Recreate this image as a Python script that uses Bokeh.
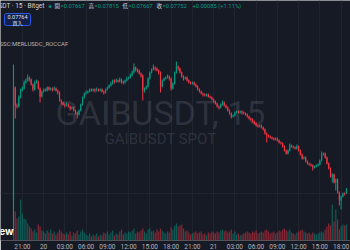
import pandas as pd
from bokeh.plotting import figure
from bokeh.models import Range1d, FixedTicker, Label, BoxAnnotation, Grid, ColumnDataSource
from bokeh.embed import file_html
from bokeh.resources import INLINE

# ---------------- data (GAIBUSDT, 15 min, Bitget) ----------------
start_time = "2025-11-19 19:45"

open_p = [
    0.07500, 0.10325, 0.09875, 0.09850, 0.10075, 0.10250, 0.10300, 0.10450, 0.10500, 0.10575,
    0.10525, 0.10400, 0.10275, 0.10450, 0.10475, 0.10300, 0.10100, 0.10225, 0.10275, 0.10250,
    0.10325, 0.10275, 0.10300, 0.10275, 0.10300, 0.10250, 0.10200, 0.10000, 0.09950, 0.09900,
    0.09875, 0.09900, 0.09850, 0.09800, 0.09825, 0.09750, 0.09700, 0.09650, 0.09750, 0.09900,
    0.10075, 0.10175, 0.10200, 0.10225, 0.10275, 0.10250, 0.10275, 0.10250, 0.10275, 0.10250,
    0.10275, 0.10225, 0.10200, 0.10275, 0.10325, 0.10375, 0.10425, 0.10500, 0.10475, 0.10500,
    0.10475, 0.10525, 0.10475, 0.10450, 0.10500, 0.10550, 0.10575, 0.10625, 0.10700, 0.10825,
    0.10775, 0.10750, 0.10675, 0.10625, 0.10250, 0.10300, 0.10350, 0.10550, 0.10700, 0.10775,
    0.10825, 0.10800, 0.10750, 0.10700, 0.10350, 0.10500, 0.10550, 0.10575, 0.10600, 0.10550,
    0.10300, 0.10425, 0.10700, 0.10850, 0.10800, 0.10700, 0.10600, 0.10550, 0.10575, 0.10500,
    0.10450, 0.10425, 0.10450, 0.10400, 0.10350, 0.10275, 0.10225, 0.10175, 0.10150, 0.10125,
    0.10150, 0.10100, 0.10075, 0.10025, 0.09975, 0.09925, 0.09850, 0.09825, 0.09900, 0.09950,
    0.09875, 0.09825, 0.09750, 0.09675, 0.09600, 0.09625, 0.09700, 0.09725, 0.09700, 0.09725,
    0.09700, 0.09675, 0.09650, 0.09600, 0.09550, 0.09525, 0.09475, 0.09425, 0.09375, 0.09350,
    0.09375, 0.09325, 0.09275, 0.09175, 0.09125, 0.09100, 0.09075, 0.09050, 0.09025, 0.09050,
    0.09000, 0.08950, 0.08925, 0.08850, 0.08750, 0.08675, 0.08750, 0.08875, 0.08850, 0.08825,
    0.08800, 0.08850, 0.08750, 0.08650, 0.08550, 0.08575, 0.08475, 0.08425, 0.08400, 0.08375,
    0.08325, 0.08350, 0.08375, 0.08400, 0.08500, 0.08650, 0.08675, 0.08575, 0.08425, 0.08300,
    0.08100, 0.08150, 0.07950, 0.08025, 0.07700, 0.07500, 0.07600, 0.07675, 0.07667,
]

high_p = [
    0.10900, 0.10350, 0.09925, 0.10125, 0.10300, 0.10350, 0.10500, 0.10550, 0.10650, 0.10600,
    0.10550, 0.10425, 0.10500, 0.10525, 0.10500, 0.10325, 0.10250, 0.10300, 0.10300, 0.10350,
    0.10350, 0.10325, 0.10325, 0.10350, 0.10325, 0.10275, 0.10225, 0.10025, 0.09975, 0.09925,
    0.09950, 0.09925, 0.09875, 0.09850, 0.09850, 0.09775, 0.09725, 0.09775, 0.09925, 0.10100,
    0.10200, 0.10250, 0.10250, 0.10300, 0.10300, 0.10300, 0.10300, 0.10325, 0.10300, 0.10300,
    0.10300, 0.10250, 0.10300, 0.10350, 0.10400, 0.10475, 0.10525, 0.10525, 0.10550, 0.10525,
    0.10575, 0.10550, 0.10500, 0.10525, 0.10600, 0.10600, 0.10675, 0.10750, 0.10925, 0.10850,
    0.10800, 0.10775, 0.10700, 0.10650, 0.10325, 0.10375, 0.10575, 0.10725, 0.10800, 0.10900,
    0.10850, 0.10825, 0.10775, 0.10725, 0.10525, 0.10575, 0.10600, 0.10650, 0.10625, 0.10575,
    0.10450, 0.10725, 0.10975, 0.10875, 0.10825, 0.10725, 0.10625, 0.10600, 0.10600, 0.10525,
    0.10475, 0.10475, 0.10475, 0.10425, 0.10375, 0.10300, 0.10250, 0.10200, 0.10175, 0.10175,
    0.10175, 0.10125, 0.10100, 0.10050, 0.10000, 0.09950, 0.09875, 0.09925, 0.10000, 0.09975,
    0.09900, 0.09850, 0.09775, 0.09700, 0.09650, 0.09725, 0.09750, 0.09750, 0.09750, 0.09750,
    0.09725, 0.09700, 0.09675, 0.09625, 0.09575, 0.09550, 0.09500, 0.09450, 0.09400, 0.09400,
    0.09400, 0.09350, 0.09300, 0.09200, 0.09150, 0.09125, 0.09100, 0.09075, 0.09075, 0.09075,
    0.09025, 0.08975, 0.08950, 0.08875, 0.08775, 0.08775, 0.08925, 0.08900, 0.08875, 0.08850,
    0.08900, 0.08875, 0.08775, 0.08675, 0.08600, 0.08600, 0.08500, 0.08450, 0.08425, 0.08400,
    0.08375, 0.08400, 0.08425, 0.08525, 0.08725, 0.08700, 0.08700, 0.08600, 0.08450, 0.08325,
    0.08175, 0.08175, 0.08050, 0.08050, 0.07725, 0.07625, 0.07700, 0.07700, 0.07815,
]

low_p = [
    0.06625, 0.09550, 0.09800, 0.09825, 0.10050, 0.10225, 0.10275, 0.10425, 0.10475, 0.10475,
    0.10375, 0.10225, 0.10250, 0.10425, 0.10275, 0.09950, 0.10075, 0.10200, 0.10225, 0.10225,
    0.10250, 0.10250, 0.10225, 0.10250, 0.10225, 0.10150, 0.09975, 0.09900, 0.09875, 0.09825,
    0.09850, 0.09825, 0.09750, 0.09775, 0.09725, 0.09650, 0.09550, 0.09625, 0.09725, 0.09875,
    0.10050, 0.10150, 0.10175, 0.10200, 0.10225, 0.10225, 0.10200, 0.10225, 0.10225, 0.10225,
    0.10200, 0.10150, 0.10175, 0.10250, 0.10300, 0.10350, 0.10400, 0.10425, 0.10450, 0.10450,
    0.10450, 0.10425, 0.10400, 0.10425, 0.10475, 0.10525, 0.10550, 0.10600, 0.10675, 0.10725,
    0.10700, 0.10650, 0.10575, 0.10000, 0.10200, 0.10275, 0.10325, 0.10525, 0.10675, 0.10750,
    0.10750, 0.10725, 0.10650, 0.10200, 0.10325, 0.10475, 0.10525, 0.10550, 0.10500, 0.10250,
    0.10275, 0.10400, 0.10675, 0.10750, 0.10675, 0.10575, 0.10500, 0.10525, 0.10475, 0.10425,
    0.10400, 0.10400, 0.10375, 0.10325, 0.10250, 0.10200, 0.10150, 0.10100, 0.10100, 0.10100,
    0.10075, 0.10050, 0.10000, 0.09950, 0.09900, 0.09825, 0.09775, 0.09800, 0.09875, 0.09850,
    0.09800, 0.09725, 0.09650, 0.09550, 0.09575, 0.09600, 0.09675, 0.09675, 0.09675, 0.09650,
    0.09650, 0.09625, 0.09575, 0.09525, 0.09500, 0.09450, 0.09400, 0.09350, 0.09325, 0.09325,
    0.09300, 0.09250, 0.09150, 0.08950, 0.09075, 0.09050, 0.09025, 0.09000, 0.09000, 0.08975,
    0.08925, 0.08900, 0.08825, 0.08725, 0.08650, 0.08650, 0.08725, 0.08825, 0.08800, 0.08775,
    0.08775, 0.08725, 0.08625, 0.08525, 0.08525, 0.08450, 0.08400, 0.08375, 0.08350, 0.08250,
    0.08300, 0.08325, 0.08350, 0.08375, 0.08475, 0.08625, 0.08550, 0.08400, 0.08275, 0.08075,
    0.07950, 0.07925, 0.07750, 0.07675, 0.07375, 0.07275, 0.07575, 0.07625, 0.07667,
]

close_p = [
    0.10325, 0.09875, 0.09850, 0.10075, 0.10250, 0.10300, 0.10450, 0.10500, 0.10575, 0.10525,
    0.10400, 0.10275, 0.10450, 0.10475, 0.10300, 0.10100, 0.10225, 0.10275, 0.10250, 0.10325,
    0.10275, 0.10300, 0.10275, 0.10300, 0.10250, 0.10200, 0.10000, 0.09950, 0.09900, 0.09875,
    0.09900, 0.09850, 0.09800, 0.09825, 0.09750, 0.09700, 0.09650, 0.09750, 0.09900, 0.10075,
    0.10175, 0.10200, 0.10225, 0.10275, 0.10250, 0.10275, 0.10250, 0.10275, 0.10250, 0.10275,
    0.10225, 0.10200, 0.10275, 0.10325, 0.10375, 0.10425, 0.10500, 0.10475, 0.10500, 0.10475,
    0.10525, 0.10475, 0.10450, 0.10500, 0.10550, 0.10575, 0.10625, 0.10700, 0.10825, 0.10775,
    0.10750, 0.10675, 0.10625, 0.10250, 0.10300, 0.10350, 0.10550, 0.10700, 0.10775, 0.10825,
    0.10800, 0.10750, 0.10700, 0.10350, 0.10500, 0.10550, 0.10575, 0.10600, 0.10550, 0.10300,
    0.10425, 0.10700, 0.10850, 0.10800, 0.10700, 0.10600, 0.10550, 0.10575, 0.10500, 0.10450,
    0.10425, 0.10450, 0.10400, 0.10350, 0.10275, 0.10225, 0.10175, 0.10150, 0.10125, 0.10150,
    0.10100, 0.10075, 0.10025, 0.09975, 0.09925, 0.09850, 0.09825, 0.09900, 0.09950, 0.09875,
    0.09825, 0.09750, 0.09675, 0.09600, 0.09625, 0.09700, 0.09725, 0.09700, 0.09725, 0.09700,
    0.09675, 0.09650, 0.09600, 0.09550, 0.09525, 0.09475, 0.09425, 0.09375, 0.09350, 0.09375,
    0.09325, 0.09275, 0.09175, 0.09125, 0.09100, 0.09075, 0.09050, 0.09025, 0.09050, 0.09000,
    0.08950, 0.08925, 0.08850, 0.08750, 0.08675, 0.08750, 0.08875, 0.08850, 0.08825, 0.08800,
    0.08850, 0.08750, 0.08650, 0.08550, 0.08575, 0.08475, 0.08425, 0.08400, 0.08375, 0.08325,
    0.08350, 0.08375, 0.08400, 0.08500, 0.08650, 0.08675, 0.08575, 0.08425, 0.08300, 0.08100,
    0.08150, 0.07950, 0.08025, 0.07700, 0.07500, 0.07600, 0.07675, 0.07667, 0.07752,
]

# volume in thousands of GAIB
volume_k = [
    3500, 580, 440, 480, 820, 540, 440, 420, 340, 280,
    240, 180, 220, 160, 320, 280, 200, 180, 140, 200,
    160, 220, 140, 180, 120, 160, 220, 180, 140, 120,
    160, 120, 180, 100, 160, 140, 200, 120, 180, 220,
    160, 120, 100, 140, 80, 120, 100, 140, 80, 120,
    100, 160, 140, 180, 120, 160, 200, 100, 140, 120,
    180, 220, 120, 160, 140, 180, 160, 200, 240, 140,
    180, 160, 200, 240, 180, 140, 220, 240, 180, 200,
    160, 220, 180, 240, 200, 160, 140, 180, 160, 260,
    220, 300, 340, 280, 300, 320, 240, 180, 200, 160,
    120, 140, 160, 180, 140, 160, 180, 120, 140, 100,
    160, 140, 180, 160, 140, 180, 160, 200, 220, 180,
    200, 160, 180, 220, 140, 180, 120, 140, 100, 120,
    140, 160, 180, 160, 140, 180, 160, 200, 140, 160,
    180, 160, 200, 220, 180, 140, 160, 180, 140, 160,
    200, 180, 220, 240, 200, 180, 220, 160, 140, 120,
    160, 180, 200, 220, 180, 160, 140, 160, 120, 160,
    140, 120, 140, 160, 180, 160, 220, 280, 340, 300,
    720, 380, 620, 420, 220, 280, 320, 300, 320,
]

grid_price = [0.0768]

# legend of the last candle
legend_keys = ["開", "高", "低", "收"]
legend_vals = ["=0.07667", "=0.07815", "=0.07667", "=0.07752"]
legend_change = "+0.00085 (+1.11%)"
buy_price = "0.07764"

# ---------------- build ----------------
UP = "#089981"
DOWN = "#f23645"
BG = "#161a25"
GRID = "#20242f"
FH = 240  # frame height; screen y of annotations is measured from the frame bottom

n = len(close_p)
idx = list(range(n))
times = pd.date_range(start_time, periods=n, freq="15min")
tick_idx, tick_lab = [], {}
for i, t in enumerate(times):
    if t.minute == 0 and t.hour % 3 == 0:
        tick_idx.append(i)
        tick_lab[i] = str(t.day) if t.hour == 0 else t.strftime("%H:%M")

colors = [UP if c >= o else DOWN for o, c in zip(open_p, close_p)]
src = ColumnDataSource(dict(
    x=idx, o=open_p, h=high_p, l=low_p, c=close_p,
    top=[max(o, c) for o, c in zip(open_p, close_p)],
    bot=[min(o, c) for o, c in zip(open_p, close_p)],
    color=colors, vol=volume_k,
))

p = figure(frame_width=350, frame_height=FH, x_range=Range1d(-7.34, 190.3),
           y_range=Range1d(0.065, 0.125), toolbar_location=None,
           output_backend="svg", y_axis_location=None, min_border=0,
           background_fill_color=BG, border_fill_color=BG, outline_line_color=None)
p.extra_y_ranges = {"vol": Range1d(0, 4800)}

# grids
for g in p.ygrid:
    g.visible = False
p.xgrid.ticker = FixedTicker(ticks=tick_idx)
p.xgrid.grid_line_color = GRID
p.add_layout(Grid(dimension=1, ticker=FixedTicker(ticks=grid_price), grid_line_color=GRID))

# x axis
ax = p.xaxis[0]
ax.ticker = FixedTicker(ticks=tick_idx)
ax.major_label_overrides = tick_lab
ax.major_label_text_font_size = "6.5px"
ax.major_label_text_color = "#b2b5be"
ax.major_label_text_font = "Roboto"
ax.major_tick_line_color = None
ax.major_tick_out = 0
ax.major_tick_in = 0
ax.minor_tick_line_color = None
ax.minor_tick_out = 0
ax.minor_tick_in = 0
ax.axis_line_color = None
ax.major_label_standoff = 2


def lab(x, py, text, size, color, align="left", font="Roboto", style="normal",
        alpha=1.0, level="annotation", baseline="middle"):
    """py: pixel distance from the top of the picture."""
    l = Label(x=x, y=FH - py, x_units="screen", y_units="screen", text=text,
              text_font_size=size, text_color=color, text_align=align,
              text_baseline=baseline, text_font=font, text_font_style=style,
              text_alpha=alpha, level=level)
    p.add_layout(l)
    return l


# watermark
lab(160, 112, "GAIBUSDT, 15", "34px", "#9598a1", align="center", alpha=0.2, level="underlay")
lab(160, 138, "GAIBUSDT SPOT", "15px", "#9598a1", align="center", alpha=0.2, level="underlay")

# volume
p.vbar(x="x", top="vol", bottom=0, width=0.7, source=src, y_range_name="vol",
       fill_color="color", fill_alpha=0.5, line_color=None)
# candles
p.segment(x0="x", y0="h", x1="x", y1="l", source=src, line_color="color", line_width=1)
p.vbar(x="x", top="top", bottom="bot", width=0.65, source=src,
       fill_color="color", line_color=None)

# header legend
HY = 5.5
lab(44, HY, "GAIBUSDT · 15 · Bitget", "6.5px", "#d1d4dc", align="right")
lab(49.5, HY, "●", "9px", UP, align="center", alpha=0.3)
lab(49.5, HY, "●", "5px", UP, align="center")
for j, (k, v) in enumerate(zip(legend_keys, legend_vals)):
    x0 = 54 + 34 * j
    lab(x0, HY, k, "5.5px", "#d1d4dc", font="Noto Sans CJK TC")
    lab(x0 + 6, HY, v, "5.8px", UP)
lab(192, HY, legend_change, "5.8px", UP)

# buy button
p.add_layout(BoxAnnotation(left=4, right=30, top=FH - 13, bottom=FH - 25,
                           left_units="screen", right_units="screen",
                           top_units="screen", bottom_units="screen",
                           fill_color="#14204a", fill_alpha=1.0,
                           line_color="#2962ff", line_alpha=0.9, line_width=1,
                           border_radius=2, level="overlay"))
l1 = lab(17, 16.7, buy_price, "5.5px", "#dfe3f0", align="center")
l2 = lab(17, 21.8, "買入", "5px", "#dfe3f0", align="center", font="Noto Sans CJK TC")
l1.level = "overlay"
l2.level = "overlay"

lab(-1, 43, "SSC:MERLUSDC_ROCCAF", "6px", "#b2b5be")

# logo fragment
lab(13, 230.5, "TradingView", "10px", "#ffffff", align="right", font="Inter",
    style="bold")

open("out.html", "w").write(file_html(p, INLINE))
